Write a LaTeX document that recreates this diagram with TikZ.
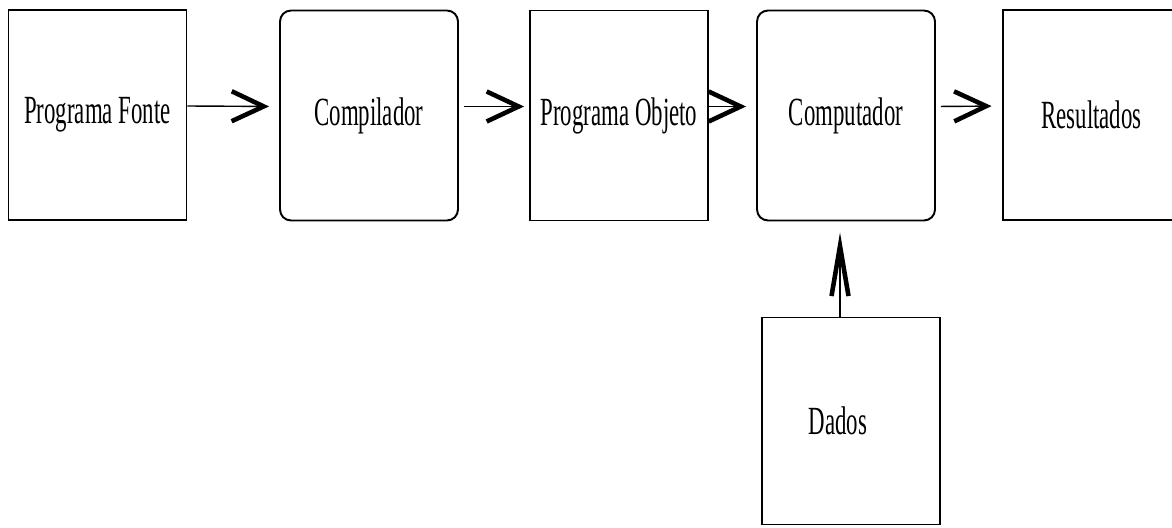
\documentclass[tikz,border=0pt]{standalone}
\usepackage{fontspec}
\setmainfont{Liberation Serif}
\usepackage{graphicx}
\usetikzlibrary{arrows.meta}
\newcommand{\tallbox}[1]{\scalebox{1}[1.75]{#1}}
\tikzset{
        boxnode/.style={align=center,inner sep=0pt,draw=black,line width=1.1pt,font=\fontsize{13}{15}\selectfont},
        % Data boxes
        node_data/.style={boxnode, rectangle, minimum width=3.56cm, minimum height=4.2cm},
        % Process boxes
        node_process/.style={node_data, rounded corners=0.22cm},
        % Flow arrows
        flow_arrow/.style={line width=0.8pt, -{Straight Barb[length=0.64cm,width=0.6cm,line width=2.6pt]}},
        flow_arrow_up/.style={line width=0.8pt, -{Straight Barb[length=1cm,width=0.34cm,line width=2.6pt]}}
}

\begin{document}
\begin{tikzpicture}[x=0.02cm, y=-0.02cm]
            \clip (0,0) rectangle (1172,527);
            \node[node_data] (fonte) at (97.5,115) {\tallbox{Programa Fonte}};
            \node[node_process] (compilador) at (369,115.5) {\tallbox{Compilador}};
            \node[node_data] (objeto) at (619,115.5) {\tallbox{Programa Objeto}};
            \node[node_process] (computador) at (846,115.5) {\tallbox{Computador}};
            \node[node_data] (resultados) at (1091.5,115) {\tallbox{Resultados}};
            \node[node_data, minimum height=4.14cm] (dados) at (851,421) {\tallbox{Dados}\hspace{0.52cm}};

            \draw[flow_arrow, shorten >=0.2cm] ([yshift=0.18cm]fonte.east) -- ([yshift=0.18cm]compilador.west);
            \draw[flow_arrow, shorten <=0.1cm, shorten >=0.1cm] ([yshift=0.18cm]compilador.east) -- ([yshift=0.18cm]objeto.west);
            \draw[flow_arrow, shorten >=0.2cm] ([yshift=0.18cm]objeto.east) -- ([yshift=0.18cm]computador.west);
            \draw[flow_arrow, shorten <=0.1cm, shorten >=0.2cm] ([yshift=0.18cm]computador.east) -- ([yshift=0.18cm]resultados.west);
            \draw[flow_arrow_up, shorten >=0.22cm] ([xshift=-0.22cm]dados.north) -- ([xshift=-0.22cm]dados.north |- computador.south);
\end{tikzpicture}
\end{document}
